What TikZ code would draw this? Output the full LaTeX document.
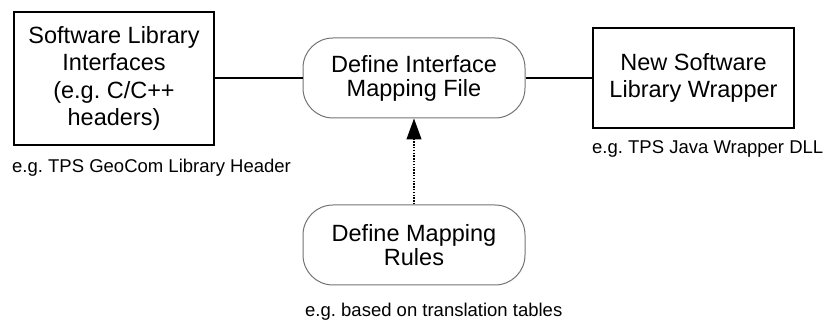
\documentclass[tikz,border=0pt]{standalone}
\usepackage{fontspec}
\setmainfont{Liberation Sans}
\usetikzlibrary{arrows.meta}
\frenchspacing
\begin{document}
\begin{tikzpicture}[x=1pt,y=1pt,
  rectbox/.style={draw=black,line width=1.2pt,rectangle,align=center,inner sep=0pt,
    font=\fontsize{23.5}{27.5}\selectfont},
  roundbox/.style={draw=black!55,line width=1pt,rectangle,rounded corners=30pt,align=center,
    inner sep=0pt,minimum width=222pt,minimum height=80pt,font=\fontsize{23.5}{24}\selectfont},
  caption/.style={inner sep=0pt,font=\fontsize{18.5}{20}\selectfont},
  link/.style={draw=black,line width=1.1pt},
  dep/.style={draw=black,line width=1.2pt,dash pattern=on 1.5pt off 1.3pt,
    -{Triangle[length=21pt,width=15pt]}}]
\useasboundingbox (0,0) rectangle (825,-320);
\node[rectbox,minimum width=200pt,minimum height=133pt] (lib) at (114,-78.5)
  {Software Library\\Interfaces\\(e.g. C/C++\\headers)};
\node[roundbox] (map) at (414,-78) {Define Interface\\Mapping File};
\node[rectbox,minimum width=201pt,minimum height=100pt] (wrap) at (693.5,-78)
  {New Software\\Library Wrapper};
\node[roundbox] (rules) at (414,-245) {Define Mapping\\Rules};
\node[caption,anchor=base west] (c1) at (12,-173) {e.g. TPS GeoCom Library Header};
\node[caption,anchor=base west] (c2) at (592,-154) {e.g. TPS Java Wrapper DLL};
\node[caption,anchor=base west] (c3) at (305,-317) {e.g. based on translation tables};
\draw[link] (lib.east |- map.west) -- (map.west);
\draw[link] (map.east) -- (wrap.west |- map.east);
\draw[dep] (rules.north) -- (map.south);
\end{tikzpicture}
\end{document}
